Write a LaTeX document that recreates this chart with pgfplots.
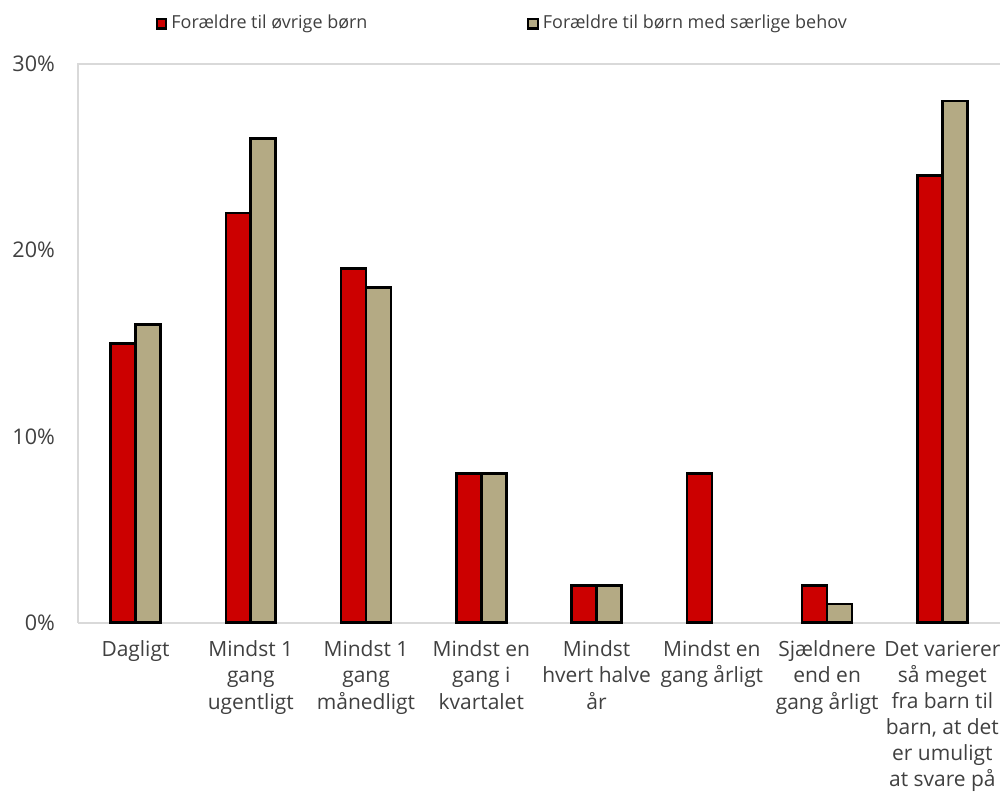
\documentclass[border=0pt]{standalone}
\usepackage{pgfplots}
\pgfplotsset{compat=1.18}
\usepackage{fontspec}
\setmainfont{Open Sans}
\usetikzlibrary{calc}
\definecolor{cred}{RGB}{204,0,0}
\definecolor{ctan}{RGB}{180,170,132}
\definecolor{cgrid}{RGB}{217,217,217}
\definecolor{ctext}{RGB}{64,64,64}
\begin{document}
\begin{tikzpicture}
\begin{axis}[
  scale only axis,
  width=462pt, height=280pt,
  ybar=0pt, bar width=12.5pt,
  xmin=-0.5, xmax=7.5,
  ymin=0, ymax=30,
  axis line style={draw=none},
  major tick length=0pt,
  xtick={0,1,2,3,4,5,6,7},
  xticklabels={
    Dagligt,
    {Mindst 1\\gang\\ugentligt},
    {Mindst 1\\gang\\månedligt},
    {Mindst en\\gang i\\kvartalet},
    {Mindst\\hvert halve\\år},
    {Mindst en\\gang årligt},
    {Sjældnere\\end en\\gang årligt},
    {Det varierer\\så meget\\fra barn til\\barn, at det\\er umuligt\\at svare på}},
  xticklabel style={align=center, font=\fontsize{10.5}{13.1}\selectfont, text=ctext, anchor=north, yshift=-5.5pt},
  ytick={0,10,20,30},
  yticklabels={0\%,10\%,20\%,30\%},
  yticklabel style={font=\fontsize{10.8}{12}\selectfont, text=ctext, anchor=east, xshift=-8pt},
  legend columns=2,
  legend style={draw=none, fill=none, at={(rel axis cs:0.084,1.072)}, anchor=west,
    font=\fontsize{9}{11}\selectfont, text=ctext, inner sep=0pt,
    /tikz/every even column/.append style={column sep=78pt}},
  legend image code/.code={\draw[#1, line width=1.1pt] (0pt,-2.4pt) rectangle (4.8pt,2.4pt);},
  clip=false,
]
\draw[cgrid, line width=0.8pt] (rel axis cs:0,0) -- (rel axis cs:1,0);
\draw[cgrid, line width=0.8pt] (rel axis cs:0,0) -- (rel axis cs:0,1) -- (rel axis cs:1,1);
\addplot[fill=cred, draw=black, line width=1.3pt] coordinates {(0,15) (1,22) (2,19) (3,8) (4,2) (5,8) (6,2) (7,24)};
\addplot[fill=ctan, draw=black, line width=1.3pt] coordinates {(0,16) (1,26) (2,18) (3,8) (4,2) (6,1) (7,28)};
\legend{Forældre til øvrige børn, Forældre til børn med særlige behov}
\end{axis}
\pgfresetboundingbox
\path ($(current axis.south west)+(-39pt,-85pt)$) rectangle ($(current axis.north east)+(1pt,32pt)$);
\end{tikzpicture}
\end{document}
